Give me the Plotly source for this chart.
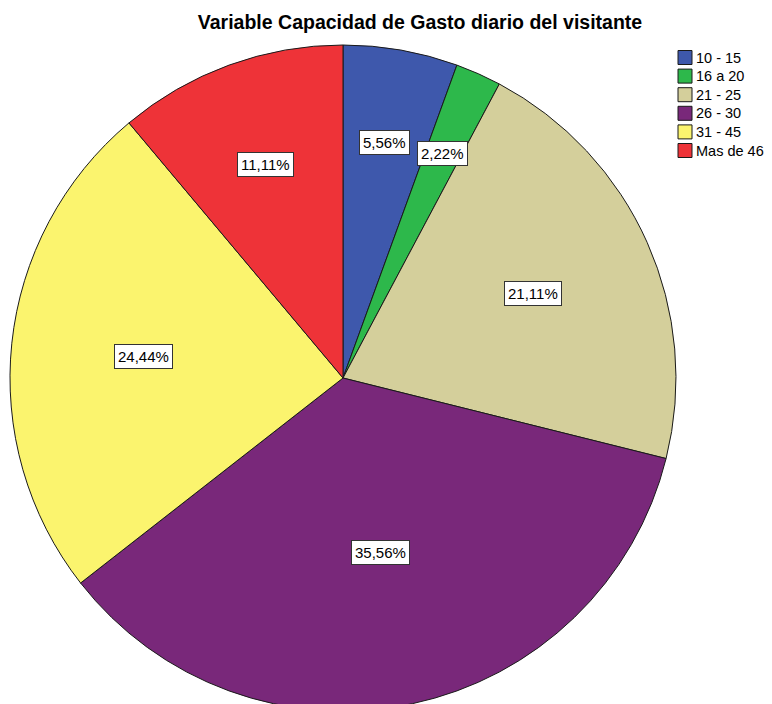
import math
import plotly.graph_objects as go

categories = ["10 - 15", "16 a 20", "21 - 25", "26 - 30", "31 - 45", "Mas de 46"]
counts = [5, 2, 19, 32, 22, 10]
colors = ["#3e58ac", "#2db84b", "#d4cf9b", "#79287a", "#fbf46e", "#ee3338"]
title_text = "Variable Capacidad de Gasto diario del visitante"

# figure geometry (page has an 8px body margin)
W, H = 772, 703
ML, MR, MT, MB = 0, 0, 37, 0
pw, ph = W - ML - MR, H - MT - MB
dom_x = [2 / pw, 668 / pw]
dom_y = [0, 1]
FONT = "Liberation Sans, Arial, sans-serif"


def px_to_paper(x, y):
    return (x - ML) / pw, 1 - (y - MT) / ph


fig = go.Figure(go.Pie(
    labels=categories,
    values=counts,
    marker=dict(colors=colors, line=dict(color="#1a1a1a", width=1)),
    sort=False,
    direction="clockwise",
    rotation=0,
    textinfo="none",
    domain=dict(x=dom_x, y=dom_y),
    showlegend=False,
))

# percentage labels placed from the pie geometry
r = min((dom_x[1] - dom_x[0]) * pw, (dom_y[1] - dom_y[0]) * ph) / 2
cx = ML + (dom_x[0] + dom_x[1]) / 2 * pw
cy = MT + (1 - (dom_y[0] + dom_y[1]) / 2) * ph
total = sum(counts)
cum = 0
annotations = []
for v in counts:
    frac = v / total
    mid = (cum + frac / 2) * 2 * math.pi
    cum += frac
    f = 0.75 - 0.6 * frac
    x, y = px_to_paper(cx + r * f * math.sin(mid), cy - r * f * math.cos(mid))
    annotations.append(dict(
        x=x, y=y, xref="paper", yref="paper", xanchor="center", yanchor="middle",
        text=f"{frac*100:.2f}%".replace(".", ","), showarrow=False,
        font=dict(family=FONT, size=15, color="black"),
        bgcolor="white", bordercolor="#333333", borderwidth=1, borderpad=3,
    ))

# legend drawn as swatches + labels
shapes = []
LX, LY0, LSTEP, SW = 670, 49.5, 18.6, 14
for i, (cat, col) in enumerate(zip(categories, colors)):
    yc = LY0 + i * LSTEP
    x0, y0 = px_to_paper(LX, yc - SW / 2)
    x1, y1 = px_to_paper(LX + SW, yc + SW / 2)
    shapes.append(dict(type="rect", xref="paper", yref="paper", x0=x0, x1=x1, y0=y1, y1=y0,
                       fillcolor=col, line=dict(color="#1a1a1a", width=1)))
    tx, ty = px_to_paper(LX + SW + 2, yc)
    annotations.append(dict(x=tx, y=ty, xref="paper", yref="paper", xanchor="left", yanchor="middle",
                            text=cat, showarrow=False,
                            font=dict(family=FONT, size=14.5, color="black")))

fig.update_layout(
    width=W, height=H,
    margin=dict(l=ML, r=MR, t=MT, b=MB),
    paper_bgcolor="white", plot_bgcolor="white",
    title=dict(text=f"<b>{title_text}</b>",
               x=412 / W, xanchor="center", y=1 - 14 / H, yanchor="middle", yref="container",
               font=dict(family=FONT, size=19.5, color="black")),
    annotations=annotations,
    shapes=shapes,
    separators=",.",
)

fig.write_html("out.html")
